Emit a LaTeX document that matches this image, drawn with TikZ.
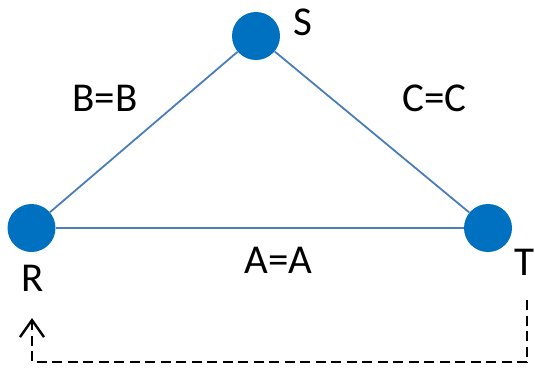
\documentclass[tikz,border=0pt]{standalone}
\usepackage{fontspec}
\setmainfont{Carlito}
\usetikzlibrary{arrows.meta}
\definecolor{vertc}{HTML}{0070C0}
\definecolor{edgec}{HTML}{4A7EBB}
\begin{document}
\begin{tikzpicture}[x=1pt, y=-1pt,
    vert/.style={circle, fill=vertc, minimum size=48pt, inner sep=0pt},
    lab/.style={font=\fontsize{41}{41}\selectfont, inner sep=0pt},
    edge/.style={edgec, line width=1.8pt},
    back/.style={black, line width=2.4pt, dash pattern=on 10pt off 5.5pt,
                 -{Straight Barb[length=17pt, width=24pt, line width=2.4pt]}}]
  \useasboundingbox (0,0) rectangle (535,368);
  % vertices
  \foreach \n/\x/\y in {S/256/36, R/31.5/228, T/488/228}
    \node[vert] (\n) at (\x,\y) {};
  % vertex names
  \node[lab] (Slab) at (302.5,22) {S};
  \node[lab] (Rlab) at (32.5,278.5) {R};
  \node[lab] (Tlab) at (524,262) {T};
  % edges
  \draw[edge] (R) -- (S);
  \draw[edge] (S) -- (T);
  \draw[edge] (R) -- (T);
  \node[lab] (bb) at (105,98) {B=B};
  \node[lab] (cc) at (434.5,98) {C=C};
  \node[lab] (aa) at (278.5,260) {A=A};
  % feedback
  \coordinate (tout) at (527,300);
  \coordinate (rin) at (32,318);
  \draw[back] (tout) -- (527,362) -- (32,362) -- (rin);
\end{tikzpicture}
\end{document}
